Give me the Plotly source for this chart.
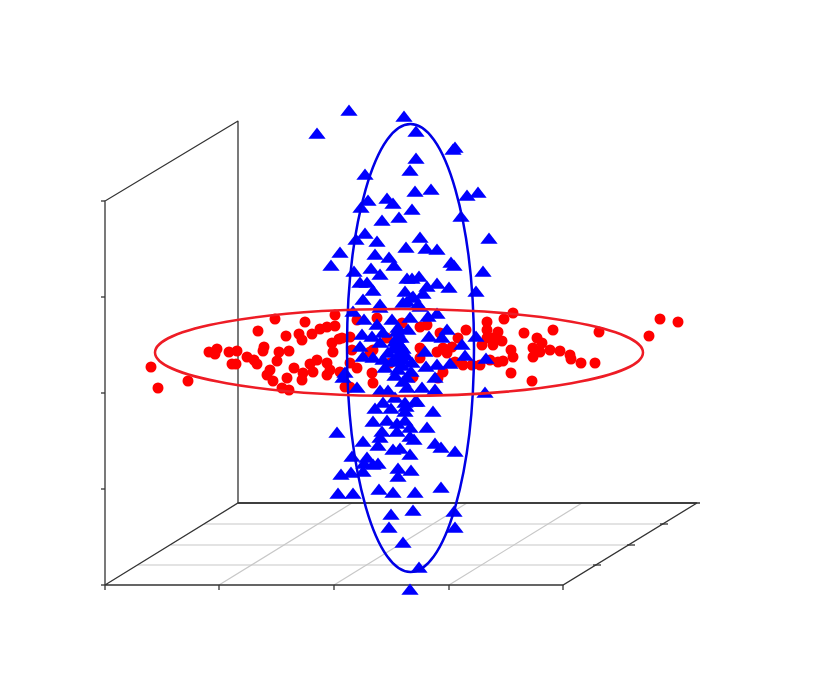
import plotly.graph_objects as go

# values are read off the picture, the axes have no numbers so projected image units are used
red_x = [151, 158, 188, 275, 305, 258, 286, 299, 302, 312, 320, 327, 335, 335, 332, 339, 333,
         209, 217, 215, 229, 237, 232, 236, 247, 254, 257, 264, 263, 279, 289, 277, 270, 267,
         273, 294, 287, 303, 302, 282, 289, 310, 317, 327, 313, 330, 327, 340, 345,
         377, 357, 350, 342, 402, 420, 427, 466, 458, 440, 487, 487, 482, 493, 352, 370, 373,
         443, 452, 437, 447, 420, 420, 463, 472, 455, 490, 498, 357, 350, 372, 373, 413, 443,
         438, 350, 387, 390,
         513, 504, 498, 524, 553, 599, 649, 660, 678, 502, 493, 487, 511, 513, 537, 542, 533,
         540, 550, 560, 533, 570, 571, 581, 595, 503, 511, 532, 480]
red_y = [367, 388, 381, 319, 322, 331, 336, 334, 340, 334, 329, 327, 326, 315, 343, 339, 352,
         352, 349, 354, 352, 351, 364, 364, 357, 360, 364, 347, 351, 352, 351, 361, 370, 375,
         381, 368, 378, 373, 380, 388, 390, 364, 360, 363, 372, 370, 375, 372, 387,
         318, 320, 337, 338, 323, 327, 325, 330, 338, 333, 322, 330, 345, 345, 350, 352, 350,
         348, 347, 352, 353, 348, 358, 365, 365, 362, 360, 362, 368, 363, 373, 383, 377, 372,
         378, 387, 338, 363,
         313, 319, 332, 333, 330, 332, 336, 319, 322, 341, 338, 338, 350, 357, 338, 343, 348,
         352, 350, 351, 357, 355, 359, 363, 363, 361, 373, 381, 365]

blue_x = [349, 317, 404, 416, 455, 453, 416, 410, 365, 415, 431, 467, 478, 368, 361, 387, 393,
          412, 461, 399, 382, 365, 356, 377, 420, 489, 340, 331, 375, 406, 426, 437, 389, 394,
          371, 451, 454, 483, 354, 380, 360, 367, 373, 407, 412, 419, 427, 437, 449, 405, 423,
          413, 476, 363, 407, 380, 418,
          380, 353, 403, 412, 420, 364, 377, 392, 410, 428, 437, 398, 408, 362, 372, 383, 397,
          429, 447, 442, 476, 360, 380, 400, 400, 388, 462, 425, 465, 363, 373, 403, 412, 385,
          398, 426, 437, 450, 486, 345, 343, 435, 407, 407, 422, 435, 357, 380, 388, 415, 485,
          395, 383, 405,
          417, 375, 391, 406, 405, 433, 373, 387, 397, 405, 382, 397, 410, 427, 337, 363, 380,
          378, 410, 414, 435, 441, 455, 393, 400, 410, 352, 367, 364, 378, 373, 398, 411, 341,
          351, 363, 398, 338, 353, 379, 393, 415, 441, 391, 413, 454, 389, 455, 403, 419, 410,
          397, 401, 395, 403, 393, 398, 406, 392, 402, 395, 403, 383, 411]
blue_y = [112, 135, 118, 133, 149, 151, 160, 172, 176, 193, 191, 197, 194, 202, 209, 200, 205,
          211, 218, 219, 222, 235, 241, 243, 239, 240, 254, 267, 256, 249, 250, 251, 259, 267,
          270, 264, 267, 273, 273, 276, 284, 284, 292, 280, 280, 278, 288, 285, 289, 293, 295,
          298, 293, 301, 303, 306, 306,
          309, 313, 304, 299, 308, 321, 326, 321, 319, 318, 315, 329, 331, 336, 338, 334, 339,
          338, 331, 339, 338, 348, 344, 346, 354, 354, 346, 353, 357, 358, 359, 361, 364, 369,
          371, 368, 366, 365, 360, 374, 379, 379, 379, 389, 389, 391, 389, 392, 392, 403, 394,
          399, 404, 404,
          403, 410, 410, 408, 413, 413, 423, 422, 425, 422, 433, 433, 429, 429, 434, 443, 439,
          447, 438, 441, 445, 449, 453, 451, 450, 456, 458, 459, 465, 465, 466, 470, 472, 476,
          474, 473, 478, 495, 495, 491, 494, 494, 489, 516, 512, 513, 529, 529, 544, 569, 591,
          333, 339, 343, 350, 350, 359, 357, 363, 367, 377, 383, 361, 373]

# box edges of the fake 3d frame
frame_x = [105, 105, 238, 238, None, 105, 563, 697, 238, 105, None, 238, 700]
frame_y = [585, 201, 121, 503, None, 585, 585, 503, 503, 585, None, 503, 503]

# floor grid
grid_x = [219, 352, None, 334, 467, None, 449, 582, None,
          138, 597, None, 171, 631, None, 204, 665]
grid_y = [585, 503, None, 585, 503, None, 585, 503, None,
          565, 565, None, 545, 545, None, 524, 524]

# tick marks
tick_x = [101, 105, None, 101, 105, None, 101, 105, None, 101, 105, None, 101, 105, None,
          105, 105, None, 219, 219, None, 334, 334, None, 449, 449, None, 563, 563, None,
          593, 601, None, 627, 635, None, 660, 668]
tick_y = [201, 201, None, 297, 297, None, 393, 393, None, 489, 489, None, 585, 585, None,
          585, 590, None, 585, 590, None, 585, 590, None, 585, 590, None, 585, 590, None,
          565, 565, None, 545, 545, None, 524, 524]

fig = go.Figure()

fig.add_trace(go.Scatter(x=grid_x, y=grid_y, mode='lines',
                         line=dict(color='#c8c8c8', width=1.2), hoverinfo='skip'))
fig.add_trace(go.Scatter(x=frame_x, y=frame_y, mode='lines',
                         line=dict(color='#333333', width=1.3), hoverinfo='skip'))
fig.add_trace(go.Scatter(x=tick_x, y=tick_y, mode='lines',
                         line=dict(color='#333333', width=1.3), hoverinfo='skip'))

fig.add_trace(go.Scatter(x=red_x, y=red_y, mode='markers', name='red',
                         marker=dict(symbol='circle', size=11, color='#ff0000')))
fig.add_trace(go.Scatter(x=blue_x, y=blue_y, mode='markers', name='blue',
                         marker=dict(symbol='triangle-up', size=15, color='#0000ff')))

# the two ellipses
fig.add_shape(type='circle', xref='x', yref='y', x0=347, x1=474, y0=124, y1=572,
              line=dict(color='#0000e6', width=2.5))
fig.add_shape(type='circle', xref='x', yref='y', x0=155, x1=643, y0=309, y1=396,
              line=dict(color='#ee1c25', width=2.5))

# the page body has an 8px margin, the ranges make up for it
fig.update_layout(
    width=831, height=700,
    margin=dict(l=0, r=0, t=0, b=0),
    paper_bgcolor='white', plot_bgcolor='white',
    showlegend=False,
    xaxis=dict(range=[8, 839], visible=False),
    yaxis=dict(range=[708, 8], visible=False),
)

fig.write_html("out.html")
